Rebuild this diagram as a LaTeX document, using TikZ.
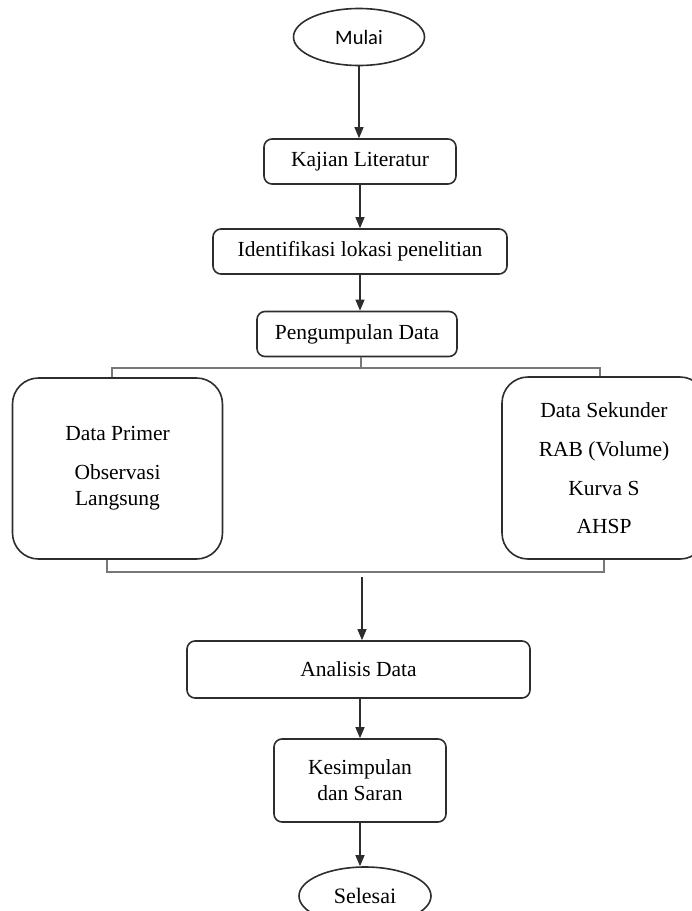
\documentclass[tikz,border=0pt]{standalone}
\usepackage{fontspec}
\setmainfont{Liberation Serif}
\newfontfamily\calfont{Carlito}
\usepackage{tikz}
\usetikzlibrary{arrows.meta,shapes.geometric}
\definecolor{boxcolor}{RGB}{45, 45, 45}
\definecolor{linecolor}{RGB}{120, 120, 120}

\tikzset{
  stepbox/.style={draw=boxcolor,line width=1.6pt,rounded corners=8pt,inner sep=0pt,align=center,font=\fontsize{21.5}{26}\selectfont},
  bigbox/.style={stepbox,rounded corners=26pt},
  endbox/.style={ellipse,draw=boxcolor,line width=1.6pt,inner sep=0pt,font=\fontsize{22}{26}\selectfont},
  flow/.style={draw=boxcolor,line width=1.1pt,-{Triangle[length=11pt,width=9pt]}},
  bracket/.style={draw=linecolor,line width=1.5pt}
}

\begin{document}
\begin{tikzpicture}[x=1pt,y=-1pt]
            \useasboundingbox (0,0) rectangle (692,911);
            \node[endbox,minimum width=131,minimum height=57,font=\calfont\fontsize{20.5}{24}\selectfont] (mulai) at (359,37) {Mulai};
            \node[stepbox,minimum width=192,minimum height=45] (kajian) at (360,161.5) {Kajian Literatur};
            \node[stepbox,minimum width=294,minimum height=45] (ident) at (360,251.5) {Identifikasi lokasi penelitian};
            \node[stepbox,minimum width=200,minimum height=45] (kumpul) at (357,334) {Pengumpulan Data};
            \node[bigbox,minimum width=210,minimum height=181] (primer) at (117.5,468.5) {Data Primer\\[13pt]Observasi\\Langsung};
            \node[bigbox,minimum width=204,minimum height=182] (sekunder) at (604,468) {Data Sekunder\\[13pt]RAB (Volume)\\[13pt]Kurva S\\[12pt]AHSP};
            \node[stepbox,minimum width=343,minimum height=57] (analisis) at (358.5,669.5) {Analisis Data};
            \node[stepbox,minimum width=172,minimum height=83] (simpul) at (360,780.5) {Kesimpulan\\dan Saran};
            \node[endbox,minimum width=132,minimum height=58] (selesai) at (365,896) {Selesai};
            % pembagian data
            \coordinate (tl) at (112,368);
            \coordinate (tr) at (600,368);
            \coordinate (bl) at (107,572);
            \coordinate (br) at (604,572);
            \coordinate (gabung) at (362,577);
            \draw[flow] (mulai.south) -- (mulai.south |- kajian.north);
            \draw[flow] (kajian.south) -- (kajian.south |- ident.north);
            \draw[flow] (ident.south) -- (ident.south |- kumpul.north);
            \draw[bracket] (kumpul.south -| 361,0) -- (361,368);
            \draw[bracket] (tl |- primer.north) -- (tl) -- (tr) -- (tr |- sekunder.north);
            \draw[bracket] (bl |- primer.south) -- (bl) -- (br) -- (br |- sekunder.south);
            \draw[flow] (gabung) -- (gabung |- analisis.north);
            \draw[flow] (analisis.south -| simpul) -- (simpul.north);
            \draw[flow] (simpul.south) -- (simpul.south |- selesai.north);
        \end{tikzpicture}
\end{document}
